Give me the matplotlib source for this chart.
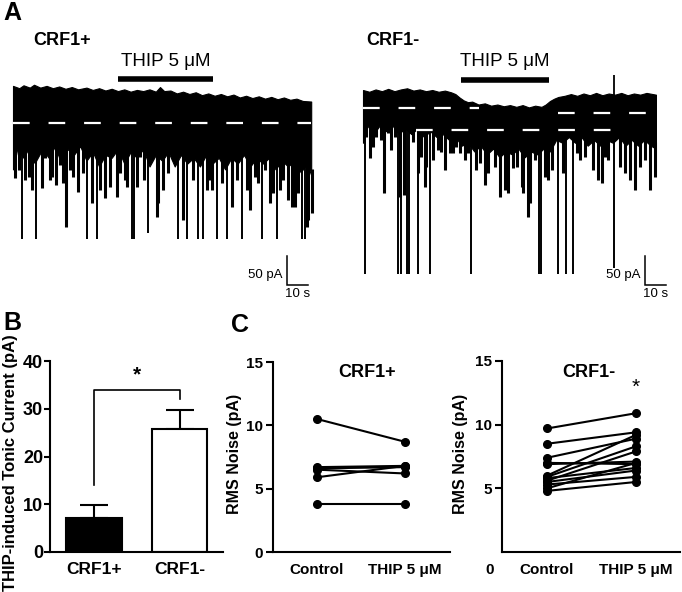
import matplotlib
matplotlib.use('Agg')
import matplotlib.pyplot as plt
import numpy as np

plt.rcParams['font.family'] = ['Liberation Sans', 'DejaVu Sans']

# ---------------- DATA ----------------
# Panel A: CRF1+ trace (time in s, current in pA; 0 pA = dashed holding level)
a1_top_t = [0, 3, 5, 8, 10, 13, 16, 19, 22, 25, 28, 31, 35, 38, 41, 44, 47, 50, 53, 56, 59, 62, 65, 68, 70, 72,
            75, 78, 81, 84, 87, 90, 93, 96, 99, 102, 105, 108, 111, 114, 117, 120, 123, 126, 129, 132, 135, 138, 142]
a1_top_i = [64, 60, 65, 61, 66, 61, 64, 60, 63, 59, 62, 58, 61, 57, 60, 56, 59, 55, 58, 54, 57, 55, 58, 54, 62, 55,
            56, 51, 54, 50, 53, 48, 51, 47, 50, 46, 49, 44, 47, 43, 46, 42, 45, 41, 44, 40, 42, 38, 37]
a1_body_t = [0, 2, 5, 8, 11, 14, 17, 20, 23, 26, 29, 32, 35, 38, 41, 44, 47, 50, 53, 56, 59, 62, 65, 68, 71, 74,
             77, 80, 83, 86, 89, 92, 95, 98, 101, 104, 107, 110, 113, 116, 119, 122, 125, 128, 131, 134, 137, 140, 142]
a1_body_i = [-80, -45, -60, -40, -65, -45, -60, -40, -70, -45, -55, -40, -65, -50, -75, -55, -60, -45, -70, -50,
             -60, -45, -75, -55, -65, -50, -75, -55, -70, -60, -75, -55, -70, -60, -80, -60, -70, -55, -75, -60,
             -70, -60, -80, -65, -75, -65, -85, -70, -90]
a1_big_t = [4.3, 11.0, 35.2, 40.0, 56.7, 57.6, 64.3, 78.6, 82.9, 88.1, 90.5, 97.1, 101.9, 109.0, 118.6, 125.7, 137.6, 139.0]
a1_big_i = [-200, -200, -200, -200, -200, -200, -190, -200, -200, -200, -200, -200, -200, -200, -200, -200, -200, -200]
a1_mid_t = [1.0, 2.9, 5.7, 7.6, 9.0, 10.5, 13.8, 15.2, 17.6, 18.6, 20.5, 22.4, 23.8, 25.2, 27.1, 28.6, 31.0, 31.9, 33.3,
            37.6, 41.4, 43.8, 46.2, 49.5, 51.0, 53.3, 54.3, 59.0, 60.5, 62.4, 65.2, 68.6, 69.0, 71.4, 73.8, 76.2, 81.0,
            85.7, 92.4, 93.8, 94.8, 99.5, 104.3, 106.7, 111.4, 112.9, 115.2, 116.7, 120.0, 122.4, 123.8, 127.1, 128.6,
            131.0, 132.9, 134.3, 135.7, 140.0, 140.5, 142.4]
a1_mid_i = [-95, -81, -98, -93, -116, -69, -112, -60, -98, -93, -107, -72, -103, -179, -81, -93, -119, -41, -86,
            -138, -116, -129, -110, -128, -86, -98, -110, -110, -59, -98, -69, -162, -138, -116, -86, -64, -167,
            -98, -116, -98, -116, -103, -145, -98, -116, -150, -93, -103, -81, -138, -121, -116, -98,
            -133, -145, -145, -121, -179, -167, -155]

# Panel A: CRF1- trace
a2_top_t = [0, 3, 6, 9, 12, 15, 18, 21, 24, 27, 30, 33, 36, 39, 42, 44, 46, 48, 50, 52, 55, 58, 61, 64, 67, 70,
            73, 76, 79, 82, 85, 87, 89, 91, 93, 96, 99, 102, 105, 108, 111, 114, 117, 120, 123, 126, 129, 132, 135, 139.5]
a2_top_i = [31, 28, 32, 29, 33, 29, 32, 34, 30, 32, 29, 31, 28, 30, 27, 24, 18, 13, 10, 11, 6, 8, 4, 6, 3, 5,
            2, 5, 1, 4, 2, 6, 12, 16, 19, 21, 24, 21, 25, 22, 26, 22, 25, 23, 26, 22, 25, 23, 26, 23]
a2_body_t = [0, 2, 5, 8, 11, 14, 17, 20, 23, 26, 29, 32, 35, 38, 41, 44, 47, 50, 53, 56, 59, 62, 65, 68, 71, 74,
             77, 80, 83, 86, 89, 92, 95, 98, 101, 104, 107, 110, 113, 116, 119, 122, 125, 128, 131, 134, 137, 139.5]
a2_body_i = [-60, -30, -45, -30, -40, -30, -45, -35, -45, -35, -50, -40, -50, -45, -55, -50, -65, -60, -75, -65,
             -80, -70, -85, -75, -80, -70, -85, -75, -80, -70, -75, -55, -60, -50, -60, -50, -65, -55, -65, -55,
             -60, -50, -65, -55, -65, -55, -65, -70]
a2_big_t = [1.0, 16.7, 18.1, 21.0, 21.9, 26.2, 31.9, 51.4, 83.8, 84.8, 92.9, 96.7, 100.0, 119.5]
a2_big_i = [-286, -286, -286, -286, -286, -286, -286, -286, -286, -286, -286, -286, -286, -276]
a2_up_t = [119.5]
a2_up_i = [57]
a2_mid_t = [1.4, 3.3, 4.8, 6.2, 8.6, 10.0, 11.9, 13.3, 15.2, 17.6, 19.5, 22.4, 23.8, 26.2, 27.6, 29.5, 30.0, 33.3,
            35.7, 37.1, 39.0, 41.4, 42.9, 44.3, 46.2, 48.6, 50.0, 53.8, 55.7, 58.1, 59.5, 62.9, 65.2, 67.6, 69.0,
            71.4, 73.3, 75.7, 76.2, 78.6, 79.5, 81.9, 86.7, 88.1, 90.0, 95.2, 101.9, 103.3, 105.7, 109.5, 111.9,
            113.8, 115.2, 116.7, 122.4, 124.8, 127.1, 129.5, 131.9, 134.3, 136.7, 139.0]
a2_mid_i = [-50, -86, -67, -50, -55, -147, -43, -72, -50, -153, -150, -43, -59, -112, -85, -136, -102, -90,
            -72, -76, -107, -78, -78, -67, -78, -90, -78, -107, -95, -133, -112, -102, -153, -141, -147,
            -103, -102, -136, -147, -188, -164, -90, -119, -124, -107, -112, -78, -90, -85, -107, -124,
            -129, -85, -90, -102, -112, -124, -141, -102, -90, -141, -119]
a2_dash_t0 = [0, 25, 93]
a2_dash_t1 = [55, 122, 138]
a2_dash_i = [0, -38, -8.6]

thip1_on, thip1_off = 50, 95
thip2_on, thip2_off = 46.7, 88.6
scale_pa, scale_s = 50, 10

# Panel B
b_groups = ['CRF1+', 'CRF1-']
b_means = [7.2, 25.7]
b_sem = [2.6, 4.1]
b_bracket = [14, 34, 32]   # left start, top, right end
b_yticks = [0, 10, 20, 30, 40]

# Panel C
c_conditions = ['Control', 'THIP 5 \u03bcM']
c1_control = [10.5, 6.7, 6.6, 6.5, 5.9, 3.8]
c1_thip = [8.7, 6.8, 6.7, 6.2, 6.8, 3.8]
c2_control = [9.7, 8.5, 7.4, 7.0, 6.9, 6.0, 5.9, 5.8, 5.6, 5.5, 5.3, 5.0, 4.8]
c2_thip = [10.9, 9.4, 8.9, 6.9, 7.1, 9.2, 8.3, 6.6, 7.9, 6.4, 5.9, 7.0, 5.5]
c_star_y = 12.9

# ---------------- FIGURE ----------------
W, H = 682, 592
fig = plt.figure(figsize=(W / 100, H / 100), dpi=100)


def px_ax(x0, y0, x1, y1):
    return fig.add_axes([x0 / W, 1 - y1 / H, (x1 - x0) / W, (y1 - y0) / H])


def ftext(x, y, s, **kw):
    fig.text(x / W, 1 - y / H, s, **kw)


def draw_trace(ax, top_t, top_i, body_t, body_i, mid_t, mid_i, big_t, big_i):
    tt = np.union1d(top_t, body_t)
    ax.fill_between(tt, np.interp(tt, body_t, body_i), np.interp(tt, top_t, top_i),
                    color='black', lw=0.8, edgecolor='black')
    ax.vlines(mid_t, np.interp(mid_t, body_t, body_i) + 10, mid_i, color='black', lw=2.2)
    ax.vlines(big_t, np.interp(big_t, body_t, body_i) + 10, big_i, color='black', lw=1.4)


def scale_bar(ax, t0, i0):
    ax.plot([t0, t0, t0 + scale_s], [i0 + scale_pa, i0, i0], color='black', lw=1.1, clip_on=False,
            solid_joinstyle='miter')
    ax.text(t0 - 2, i0 + scale_pa * 0.35, f'{scale_pa} pA', ha='right', va='center', fontsize=9.5)
    ax.text(t0 + scale_s / 2, i0 - 6, f'{scale_s} s', ha='center', va='top', fontsize=9.5)


# Trace 1 axes: t = (px-13)/2.1, I = (123-py)/0.58
ax1 = px_ax(0, 30, 341, 300)
ax1.set_xlim((0 - 13) / 2.1, (341 - 13) / 2.1)
ax1.set_ylim((123 - 300) / 0.58, (123 - 30) / 0.58)
ax1.axis('off')
draw_trace(ax1, a1_top_t, a1_top_i, a1_body_t, a1_body_i, a1_mid_t, a1_mid_i, a1_big_t, a1_big_i)
ax1.plot([0, 142], [0, 0], color='white', lw=1.6, dashes=(7.5, 8.5))
ax1.plot([thip1_on, thip1_off], [76, 76], color='black', lw=4, solid_capstyle='butt')
ax1.text((thip1_on + thip1_off) / 2, 92, 'THIP 5 \u03bcM', ha='center', va='bottom', fontsize=13.5)
scale_bar(ax1, (287 - 13) / 2.1, (123 - 285) / 0.58)

# Trace 2 axes: t = (px-363)/2.1, I = (108-py)/0.58
ax2 = px_ax(341, 30, 682, 300)
ax2.set_xlim((341 - 363) / 2.1, (682 - 363) / 2.1)
ax2.set_ylim((108 - 300) / 0.58, (108 - 30) / 0.58)
ax2.axis('off')
draw_trace(ax2, a2_top_t, a2_top_i, a2_body_t, a2_body_i, a2_mid_t, a2_mid_i, a2_big_t, a2_big_i)
ax2.vlines(a2_up_t, 0, a2_up_i, color='black', lw=1.3)
for t0, t1, lev in zip(a2_dash_t0, a2_dash_t1, a2_dash_i):
    ax2.plot([t0, t1], [lev, lev], color='white', lw=1.6, dashes=(7.5, 8.5))
ax2.plot([thip2_on, thip2_off], [48, 48], color='black', lw=4, solid_capstyle='butt')
ax2.text((thip2_on + thip2_off) / 2, 66, 'THIP 5 \u03bcM', ha='center', va='bottom', fontsize=13.5)
scale_bar(ax2, (645 - 363) / 2.1, (108 - 285) / 0.58)

ftext(3, 20, 'A', fontsize=18, fontweight='bold', va='baseline')
ftext(33, 45, 'CRF1+', fontsize=13, fontweight='bold', va='baseline')
ftext(366, 45, 'CRF1-', fontsize=13, fontweight='bold', va='baseline')

# ---------------- Panel B ----------------
axB = px_ax(50, 361, 223, 552)
xb = np.arange(len(b_groups))
axB.bar(xb, b_means, width=0.65, color=['black', 'white'], edgecolor='black', linewidth=1.5, zorder=2)
axB.errorbar(xb, b_means, yerr=[[0, 0], b_sem], fmt='none', ecolor='black', elinewidth=1.5,
             capsize=10, capthick=1.5, zorder=1)
axB.plot([0, 0, 1, 1], b_bracket[:2] + b_bracket[1:], color='black', lw=1.2, clip_on=False)
axB.text(0.5, 35, '*', ha='center', va='bottom', fontsize=15, fontweight='bold')
axB.set_xlim(-0.513, 1.507)
axB.set_ylim(0, 40)
axB.set_yticks(b_yticks)
axB.set_xticks(xb)
axB.set_xticklabels(b_groups)
for s in ['top', 'right']:
    axB.spines[s].set_visible(False)
for s in ['left', 'bottom']:
    axB.spines[s].set_linewidth(1.5)
axB.tick_params(axis='y', length=4, width=1.5, labelsize=13, pad=1)
axB.tick_params(axis='x', length=0, labelsize=12.5, pad=7)
for lab in axB.get_xticklabels() + axB.get_yticklabels():
    lab.set_fontweight('bold')
ftext(11, 463, 'THIP-induced Tonic Current (pA)', rotation=90, ha='center', va='center',
      fontsize=12, fontweight='bold')
ftext(3, 330, 'B', fontsize=18, fontweight='bold', va='baseline')


# ---------------- Panel C ----------------
def c_panel(ax, ctrl, thip, yticks, xlim):
    for c, t in zip(ctrl, thip):
        ax.plot([0, 1], [c, t], '-o', color='black', lw=1.5, ms=5.5, clip_on=False)
    ax.set_xlim(*xlim)
    ax.set_ylim(0, 15)
    ax.set_yticks(yticks)
    ax.set_xticks([0, 1])
    ax.set_xticklabels(c_conditions)
    for s in ['top', 'right']:
        ax.spines[s].set_visible(False)
    for s in ['left', 'bottom']:
        ax.spines[s].set_linewidth(1.5)
    ax.tick_params(axis='y', length=5, width=1.5, labelsize=11, pad=2)
    ax.tick_params(axis='x', length=0, labelsize=11, pad=8)
    for lab in ax.get_xticklabels() + ax.get_yticklabels():
        lab.set_fontweight('bold')


axC1 = px_ax(273, 362, 450, 552)
c_panel(axC1, c1_control, c1_thip, [0, 5, 10, 15], (-0.5, 1.511))
axC2 = px_ax(502, 361, 680, 552)
c_panel(axC2, c2_control, c2_thip, [5, 10, 15], (-0.506, 1.494))
axC2.text(1, c_star_y, '*', ha='center', va='center', fontsize=15)

ftext(367.5, 377, 'CRF1+', ha='center', va='baseline', fontsize=13, fontweight='bold')
ftext(588.5, 377, 'CRF1-', ha='center', va='baseline', fontsize=13, fontweight='bold')
ftext(234.5, 454, 'RMS Noise (pA)', rotation=90, ha='center', va='center', fontsize=11.5, fontweight='bold')
ftext(461, 454, 'RMS Noise (pA)', rotation=90, ha='center', va='center', fontsize=11.5, fontweight='bold')
ftext(489.5, 570, '0', ha='center', va='center', fontsize=11, fontweight='bold')
ftext(231, 332, 'C', fontsize=18, fontweight='bold', va='baseline')

fig.savefig('out.png', dpi=100)
